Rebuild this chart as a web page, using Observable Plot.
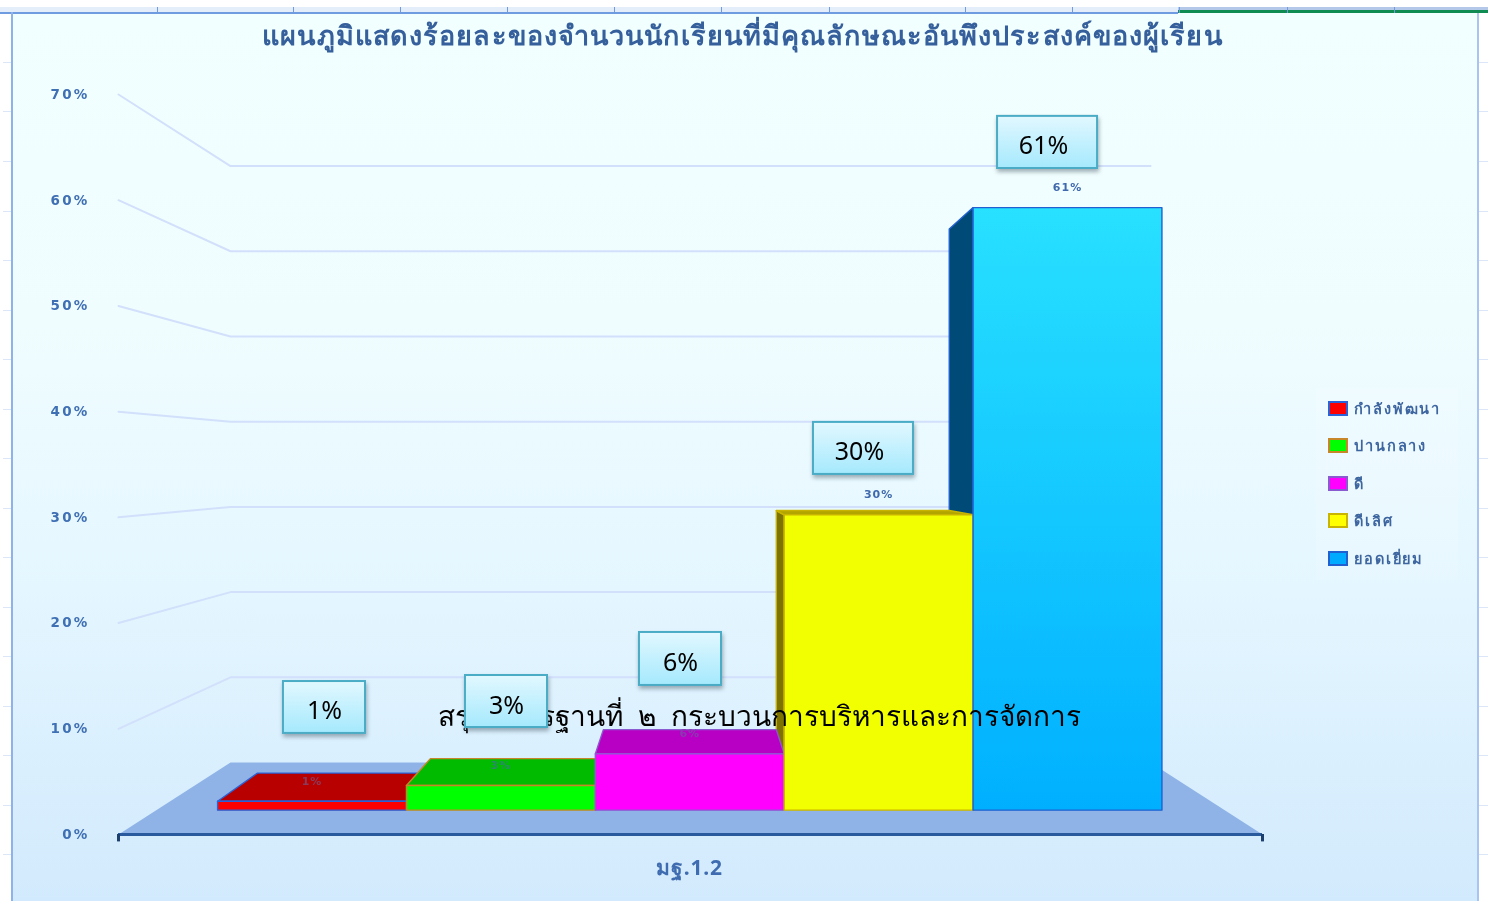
<!DOCTYPE html>
<html lang="th">
<head>
<meta charset="utf-8">
<script src="https://cdn.jsdelivr.net/npm/d3@7"></script>
<script src="https://cdn.jsdelivr.net/npm/@observablehq/plot@0.6"></script>
<style>
  html,body{margin:0;padding:0;background:#fff;}
  #stage{position:relative;width:1488px;height:901px;overflow:hidden;font-family:"Noto Sans",sans-serif;}
  #stage svg{position:absolute;left:0;top:0;}
  .abs{position:absolute;}
  #legend{position:absolute;left:1316px;top:388px;width:142px;height:192px;background:rgba(255,255,255,.14);}
  .lg{position:absolute;left:12px;height:16px;display:flex;align-items:center;gap:6px;font-size:14.5px;font-weight:700;color:#3d659f;letter-spacing:1.9px;white-space:nowrap;filter:blur(.35px);}
  .lg i{display:block;width:16px;height:11px;border-width:2px;border-style:solid;}
  [aria-label="y-axis tick label"] text{letter-spacing:2.2px;}
  .ttl text{letter-spacing:1.1px;}
  .grp text{letter-spacing:.8px;}
  .sml text{letter-spacing:1px;}
</style>
</head>
<body>
<div id="stage"></div>
<script>
// ---- data ----
const categories = ["กำลังพัฒนา","ปานกลาง","ดี","ดีเลิศ","ยอดเยี่ยม"];
const values = [0.9, 2.5, 5.7, 29.9, 61];
const valueLabels = ["1%","3%","6%","30%","61%"];
const yTicks = [0,10,20,30,40,50,60,70];
const groupLabel = "มฐ.1.2";
const titleText = "แผนภูมิแสดงร้อยละของจำนวนนักเรียนที่มีคุณลักษณะอันพึงประสงค์ของผู้เรียน";
const overlayText = "สรุปมาตรฐานที่\u00a0\u00a0๒\u00a0\u00a0กระบวนการบริหารและการจัดการ";

// ---- styles ----
const frontFill = ["#ff0000","#00ff00","#ff00ff","#f2ff00","url(#blueFront)"];
const topFill   = ["#b80000","#00bb00","#b800c4","#b3a500","#22dcff"];
const sideFill  = ["#8a0000","#008a00","#8a0090","#7d7300","#004a78"];
const edge      = ["#2a62d8","#c8862a","#8a5ad0","#c9b400","#2060d0"];
const swatch    = ["#ff0000","#00ff00","#ff00ff","#ffff00","#00aaff"];
const smallLabelFill = ["#8a3a5a","#2b8a6a","#8a3ab0","#3f69ad","#3f69ad"];

// ---- 3D projection, in scale units (u = floor fraction, v = percent, t = depth) ----
const k = 0.0979, a = 6.81, b = 0.194;
const px = (u, t) => t * k + u * (1 - 2 * k * t);
const py = (v, t) => a * t + v * (1 - b * t);
const tFront = 0.338, tBack = 0.74;
const barStart = 0.0573, barStep = 0.1768;
const edgeU = i => barStart + barStep * i;

const poly = (id, fill, stroke, pts) =>
  pts.map(([u, v, t]) => ({id, fill, stroke, x: px(u, t), y: py(v, t)}));

const faces = [];
// side faces, right to left
[4, 3].forEach(i => faces.push(...poly("side" + i, sideFill[i], edge[i], [
  [edgeU(i), values[i], tFront], [edgeU(i), values[i], tBack], [edgeU(i), 0, tBack], [edgeU(i), 0, tFront]
])));
// top faces, left to right (the tallest bar's top faces away from the viewer)
[0, 1, 2, 3].forEach(i => faces.push(...poly("top" + i, topFill[i], edge[i], [
  [edgeU(i), values[i], tFront], [edgeU(i), values[i], tBack], [edgeU(i + 1), values[i], tBack], [edgeU(i + 1), values[i], tFront]
])));
// front faces
values.forEach((v, i) => faces.push(...poly("front" + i, frontFill[i], edge[i], [
  [edgeU(i), 0, tFront], [edgeU(i), v, tFront], [edgeU(i + 1), v, tFront], [edgeU(i + 1), 0, tFront]
])));

const floor = poly("floor", "#8fb3e7", "none", [[0,0,0],[0,0,1],[1,0,1],[1,0,0]]);
const grid = yTicks.slice(1).flatMap(v => poly("g" + v, "none", "#d6e3fb", [[0,v,0],[0,v,1],[1,v,1]]));

const smallLabels = values.map((v, i) => ({
  x: px(edgeU(i) + barStep / 2, tFront), y: py(v, tFront), text: valueLabels[i], fill: smallLabelFill[i]
}));

// callout boxes (layout, in scale units)
const boxU = [[.1442,.2159],[.3033,.375],[.4554,.5271],[.6075,.6949],[.7684,.8558]];
const boxV = [[9.56,14.47],[10.12,15.04],[14.1,19.11],[34.06,38.98],[63,67.93]];
const boxTextShift = [0, 0, 0, -.0035, -.0035];
const boxes = valueLabels.map((text, i) => ({text, shift: boxTextShift[i], x1: boxU[i][0], x2: boxU[i][1], y1: boxV[i][0], y2: boxV[i][1]}));

const defs = () => {
  const s = d3.create("svg:defs");
  const g1 = s.append("linearGradient").attr("id","blueFront").attr("x1",0).attr("x2",0).attr("y1",0).attr("y2",1);
  g1.append("stop").attr("offset",0).attr("stop-color","#28e0ff");
  g1.append("stop").attr("offset",1).attr("stop-color","#00b0ff");
  const g2 = s.append("linearGradient").attr("id","callout").attr("x1",0).attr("x2",0).attr("y1",0).attr("y2",1);
  g2.append("stop").attr("offset",0).attr("stop-color","#e2f8ff");
  g2.append("stop").attr("offset",1).attr("stop-color","#a5e9fd");
  return s.node();
};

const plot = Plot.plot({
  width: 1488, height: 901,
  marginLeft: 0, marginRight: 0, marginTop: 0, marginBottom: 0,
  style: {background: "transparent", overflow: "visible"},
  x: {domain: [0, 1], range: [118, 1262], axis: null},
  y: {domain: [0, 70], range: [834, 94], axis: null},
  color: {type: "identity"},
  marks: [
    defs,
    Plot.line(grid, {x: "x", y: "y", z: "id", stroke: "#d2e0fb", strokeWidth: 2}),
    Plot.line(floor, {x: "x", y: "y", z: "id", fill: "fill", stroke: null, curve: "linear-closed"}),
    Plot.ruleY([0], {x1: 0, x2: 1, stroke: "#2a5a9e", strokeWidth: 3}),
    Plot.ruleX([0, 1], {y1: 0, y2: -0.7, stroke: "#1d3f6e", strokeWidth: 3}),
    Plot.axisY({ticks: yTicks, tickSize: 0, anchor: "left", tickFormat: d => d + "%", label: null,
      fontFamily: "DejaVu Sans", fontSize: 13.5, fontWeight: 700, fill: "#4070b4", textAnchor: "end",
      frameAnchor: null, x: 0, dx: -20, imageFilter: "blur(.35px)"}),
    Plot.line(faces, {x: "x", y: "y", z: "id", fill: "fill", stroke: "stroke", strokeWidth: 1.4, curve: "linear-closed"}),
    Plot.text(smallLabels, {x: "x", y: "y", text: "text", fill: "fill", dy: -20, fontFamily: "DejaVu Sans", fontSize: 11, fontWeight: 700, className: "sml", imageFilter: "blur(.35px)"}),
    Plot.text([titleText], {frameAnchor: "top", dx: -2, dy: 25, fill: "#36609c", fontSize: 27, fontWeight: 700, className: "ttl", imageFilter: "blur(.4px)"}),
    Plot.text([groupLabel], {frameAnchor: "bottom", dx: -55, dy: -27, fill: "#3f6cb0", fontSize: 21, fontWeight: 700, className: "grp", imageFilter: "blur(.4px)"}),
    Plot.text([overlayText], {frameAnchor: "top", dx: 15, dy: 706, fill: "#000", fontSize: 28}),
    Plot.rect(boxes, {x1: "x1", x2: "x2", y1: "y1", y2: "y2", fill: "url(#callout)", stroke: "#4bacc6", strokeWidth: 2,
      imageFilter: "drop-shadow(1px 3px 2px rgba(60,80,90,.45))"}),
    Plot.text(boxes, {x: d => (d.x1 + d.x2) / 2 + d.shift, y: d => (d.y1 + d.y2) / 2, text: "text", fill: "#000", fontSize: 25, dy: 4})
  ]
});

// ---- surrounding frame of the screenshot and legend ----
const stage = document.getElementById("stage");
const add = (l, t, w, h, bg) => {
  const d = document.createElement("div");
  d.className = "abs";
  d.style.cssText = `left:${l}px;top:${t}px;width:${w}px;height:${h}px;background:${bg}`;
  stage.appendChild(d);
};
add(12, 13, 1466, 888, "linear-gradient(#f2ffff 0%,#f0fdff 35%,#e4f6ff 65%,#d2eafd 100%)");
add(0, 7, 1488, 5, "#e4eefa");
add(1178, 7, 310, 3, "#b4c9ea");
add(0, 12, 1178, 1.5, "#6f9be0");
add(1178, 10, 310, 3, "#0e8c52");
add(11, 12, 1.5, 889, "#8fb2ea");
add(1477, 13, 2, 888, "#a9c4f0");
[157,293,400,507,614,721,829,965,1072,1179,1287,1394].forEach(x => add(x, 7, 1, 6, "#6f9be0"));
[62,111,161,211,260,310,359,409,458,508,557,607,656,706,755,805,854].forEach(y => {
  add(3, y, 8, 1, "#dbe7f8");
  add(1479, y, 9, 1, "#dbe7f8");
});
stage.appendChild(plot);

const legend = document.createElement("div");
legend.id = "legend";
categories.forEach((c, i) => {
  const r = document.createElement("div");
  r.className = "lg";
  r.style.top = [12, 49, 87, 124, 162][i] + "px";
  const sw = document.createElement("i");
  sw.style.background = swatch[i];
  sw.style.borderColor = edge[i];
  const t = document.createElement("span");
  t.textContent = c;
  r.append(sw, t);
  legend.appendChild(r);
});
stage.appendChild(legend);
</script>
</body>
</html>
